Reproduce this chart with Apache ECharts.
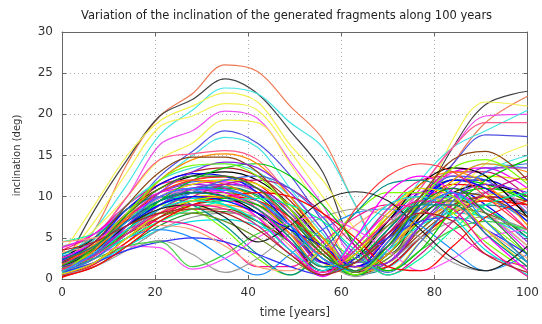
<!DOCTYPE html>
<html>
<head>
<meta charset="utf-8">
<script src="https://cdn.jsdelivr.net/npm/echarts@6/dist/echarts.min.js"></script>
<style>
  html, body { margin: 0; padding: 0; background: #ffffff; }
  #chart { width: 542px; height: 324px; }
</style>
</head>
<body>
<div id="chart"></div>
<script>
// Sample times (years) shared by every fragment track
const years = [0, 7, 14, 21, 28, 35, 42, 49, 56, 63, 70, 77, 84, 91, 100];

// Inclination (deg) of each generated fragment at the sample times
const inclinations = [
  [1.5, 6.0, 14.0, 19.8, 22.5, 26.0, 25.2, 21.0, 17.0, 9.0, 3.0, 7.5, 14.0, 19.0, 22.2],
  [1.0, 8.4, 14.5, 19.8, 21.8, 24.3, 22.5, 18.0, 13.0, 4.0, 3.0, 9.0, 16.0, 21.2, 22.8],
  [2.0, 6.0, 11.5, 17.5, 20.5, 23.2, 22.5, 19.0, 16.0, 9.0, 1.5, 5.0, 9.0, 13.0, 15.0],
  [3.0, 9.0, 15.0, 19.2, 21.0, 22.6, 21.5, 16.3, 12.0, 6.0, 2.0, 8.0, 17.0, 21.5, 21.0],
  [2.0, 7.0, 13.0, 18.5, 19.8, 21.3, 20.5, 15.5, 10.0, 5.0, 3.0, 6.0, 10.0, 14.0, 16.3],
  [1.5, 5.0, 10.0, 16.3, 18.0, 20.4, 19.5, 14.3, 9.0, 3.0, 5.0, 11.0, 16.0, 19.8, 20.0],
  [2.5, 6.0, 10.0, 14.5, 16.5, 19.3, 19.0, 14.0, 8.0, 2.0, 4.0, 8.0, 12.0, 12.0, 9.0],
  [1.0, 4.0, 8.0, 12.5, 15.5, 18.0, 16.5, 12.6, 7.0, 2.0, 3.0, 9.0, 14.0, 17.5, 17.3],
  [3.0, 5.0, 9.0, 12.0, 15.0, 17.2, 16.0, 11.0, 6.0, 1.0, 6.0, 12.0, 16.0, 18.0, 20.5],
  [2.0, 5.0, 10.0, 14.5, 15.2, 15.6, 14.5, 10.0, 5.0, 2.0, 6.0, 11.0, 16.0, 19.0, 19.0],
  [1.0, 3.5, 7.2, 10.5, 12.0, 12.4, 11.5, 8.0, 3.5, 1.0, 4.5, 9.0, 11.5, 11.0, 8.0],
  [0.5, 2.8, 6.0, 9.0, 10.8, 11.0, 10.0, 6.5, 2.0, 2.5, 6.0, 10.0, 12.0, 11.5, 9.5],
  [2.0, 4.0, 7.5, 10.0, 11.0, 10.5, 8.5, 5.0, 1.0, 3.0, 7.0, 10.5, 11.0, 9.0, 5.0],
  [3.0, 4.5, 7.0, 9.0, 9.8, 9.5, 8.0, 4.5, 0.5, 4.0, 8.5, 11.0, 10.5, 8.0, 4.0],
  [1.5, 3.0, 6.5, 10.0, 11.5, 11.8, 10.5, 7.0, 2.5, 1.5, 5.0, 9.5, 13.0, 13.5, 11.0],
  [0.8, 2.5, 5.5, 8.5, 10.0, 10.2, 9.0, 6.0, 2.0, 0.5, 3.5, 8.0, 11.5, 12.5, 12.0],
  [2.5, 5.0, 8.5, 11.0, 12.5, 13.0, 12.0, 9.0, 4.5, 0.8, 3.0, 7.5, 10.5, 11.5, 10.0],
  [4.0, 5.0, 7.0, 9.5, 11.0, 11.5, 10.5, 7.5, 3.0, 1.0, 2.5, 6.5, 9.5, 10.5, 9.0],
  [1.0, 2.0, 4.5, 7.0, 8.5, 9.0, 8.0, 5.5, 2.0, 1.5, 4.0, 7.0, 9.0, 9.5, 7.0],
  [0.3, 2.0, 5.0, 7.5, 9.0, 9.5, 9.0, 6.5, 3.0, 0.5, 2.0, 5.5, 8.5, 10.0, 9.5],
  [2.2, 4.5, 8.0, 10.5, 11.5, 11.0, 9.5, 6.0, 2.0, 2.0, 5.5, 9.0, 10.0, 8.5, 4.5],
  [1.8, 3.2, 6.0, 8.5, 9.5, 9.0, 7.0, 3.5, 0.5, 3.5, 7.5, 10.0, 9.5, 7.0, 3.0],
  [3.5, 5.5, 9.0, 11.5, 12.0, 11.0, 8.5, 4.5, 1.0, 4.0, 8.5, 12.0, 12.5, 10.5, 6.0],
  [0.6, 3.0, 6.5, 9.5, 11.0, 11.2, 10.2, 7.5, 3.5, 0.5, 1.5, 5.0, 8.0, 9.0, 8.0],
  [2.8, 4.0, 6.5, 9.0, 10.5, 10.8, 9.5, 6.5, 2.5, 1.0, 4.0, 8.0, 10.5, 10.0, 7.0],
  [1.2, 4.0, 8.0, 11.5, 13.0, 13.5, 12.5, 9.5, 5.0, 1.5, 2.0, 6.0, 9.0, 10.0, 9.0],
  [0.4, 1.5, 4.0, 6.5, 8.0, 8.2, 7.0, 4.5, 1.0, 2.0, 5.0, 8.0, 9.5, 8.5, 5.0],
  [2.0, 3.8, 7.0, 9.8, 10.8, 10.5, 9.0, 5.5, 1.5, 2.5, 6.5, 10.5, 12.5, 12.0, 8.5],
  [1.5, 4.8, 9.0, 12.0, 13.5, 14.0, 13.0, 10.0, 5.5, 1.0, 3.0, 8.0, 12.0, 14.0, 13.5],
  [3.2, 4.2, 6.0, 8.0, 9.0, 8.8, 7.5, 4.0, 0.5, 3.0, 6.5, 9.0, 9.5, 8.0, 4.0],
  [0.9, 2.5, 5.8, 9.0, 10.5, 10.5, 9.5, 7.0, 3.5, 0.8, 2.5, 6.0, 8.5, 8.0, 5.5],
  [2.5, 3.5, 6.0, 8.5, 10.0, 10.0, 8.5, 5.5, 2.0, 1.5, 5.5, 10.0, 13.0, 13.0, 10.0],
  [1.0, 3.5, 7.5, 10.5, 11.8, 12.0, 11.0, 8.0, 4.0, 0.5, 3.5, 9.0, 12.5, 12.0, 8.0],
  [4.5, 5.5, 7.5, 9.5, 10.0, 9.0, 6.5, 3.0, 0.5, 3.5, 7.0, 9.5, 10.0, 8.5, 5.5],
  [0.2, 1.8, 4.5, 7.5, 9.5, 10.0, 9.5, 7.5, 4.0, 1.0, 1.5, 5.0, 8.0, 9.5, 9.0],
  [1.6, 3.0, 5.5, 8.0, 9.5, 9.8, 9.0, 6.0, 2.5, 0.5, 3.0, 7.0, 10.0, 11.0, 10.0],
  [2.3, 4.5, 8.5, 11.5, 12.8, 12.5, 10.5, 6.5, 2.0, 1.5, 5.0, 9.5, 12.0, 12.0, 9.5],
  [0.7, 2.0, 4.0, 6.0, 7.0, 7.2, 6.5, 4.5, 1.5, 1.0, 3.5, 6.5, 8.0, 7.5, 5.0],
  [3.8, 5.5, 8.5, 10.5, 11.0, 10.0, 7.5, 3.5, 0.3, 4.0, 8.0, 10.5, 10.5, 8.0, 3.5],
  [1.3, 3.5, 7.0, 10.0, 11.5, 12.0, 11.5, 9.0, 5.0, 1.5, 1.0, 4.5, 8.0, 10.0, 11.0],
  [2.0, 4.0, 7.0, 9.5, 10.5, 10.0, 8.0, 4.5, 1.0, 2.5, 7.0, 11.5, 13.5, 12.5, 7.5],
  [0.5, 1.5, 3.5, 6.0, 7.5, 8.0, 7.5, 5.5, 2.5, 0.3, 2.0, 5.0, 7.0, 7.5, 6.0],
  [1.9, 4.2, 8.0, 11.0, 12.0, 11.5, 9.5, 5.5, 1.5, 3.0, 7.5, 11.5, 13.0, 11.5, 6.5],
  [2.6, 3.6, 5.5, 7.5, 8.5, 8.5, 7.0, 4.5, 1.0, 2.0, 5.0, 8.5, 10.5, 10.0, 7.5],
  [1.1, 3.0, 6.0, 9.0, 11.0, 11.5, 11.0, 8.5, 4.5, 1.0, 2.0, 6.5, 10.0, 11.5, 10.5],
  [1.5, 4.0, 7.5, 9.0, 8.5, 6.0, 2.5, 0.5, 4.0, 8.0, 10.5, 10.5, 8.0, 4.5, 1.0],
  [2.0, 3.5, 6.0, 7.0, 6.5, 4.5, 1.5, 1.5, 4.5, 7.5, 9.0, 8.5, 6.0, 3.0, 1.5],
  [3.0, 5.0, 8.5, 10.0, 9.0, 6.5, 3.0, 0.5, 3.5, 8.0, 11.5, 12.0, 10.0, 6.0, 2.0],
  [0.5, 2.5, 5.0, 6.0, 5.0, 2.5, 0.5, 3.0, 6.0, 8.0, 8.5, 6.5, 3.5, 1.0, 3.0],
  [1.0, 2.0, 3.5, 4.7, 3.0, 0.8, 2.5, 5.5, 7.5, 8.5, 7.5, 5.0, 2.0, 1.0, 4.0],
  [2.0, 3.0, 4.0, 3.8, 1.2, 2.5, 5.0, 7.0, 7.5, 6.0, 3.5, 1.0, 2.5, 5.0, 6.0],
  [0.8, 2.0, 3.5, 4.5, 5.0, 4.5, 3.0, 1.5, 0.5, 2.5, 5.0, 7.0, 7.5, 6.0, 3.0],
  [1.5, 2.5, 4.0, 4.5, 1.5, 3.0, 5.5, 6.5, 5.0, 2.5, 1.0, 3.5, 6.0, 7.0, 6.0],
  [4.5, 5.0, 6.0, 6.5, 6.0, 4.0, 1.5, 1.0, 3.5, 6.5, 9.0, 10.0, 9.0, 6.0, 2.5],
  [1.2, 3.5, 6.5, 8.0, 8.0, 7.0, 5.0, 2.5, 0.5, 3.0, 6.5, 9.0, 9.5, 7.0, 2.0],
  [0.5, 2.0, 5.0, 8.0, 10.0, 11.5, 12.0, 11.0, 8.0, 4.0, 0.5, 3.0, 7.0, 10.5, 12.5],
  [1.0, 2.5, 5.5, 8.5, 10.5, 12.0, 12.5, 11.0, 7.5, 3.0, 0.8, 4.5, 9.5, 13.0, 14.0],
  [2.0, 3.0, 5.0, 7.0, 8.5, 9.5, 9.8, 9.0, 7.0, 3.5, 0.5, 2.5, 6.0, 9.0, 10.5],
  [0.3, 1.5, 4.0, 7.0, 9.0, 10.0, 10.5, 10.0, 8.0, 5.0, 1.5, 1.0, 4.0, 7.5, 9.5],
  [1.4, 3.0, 6.0, 9.5, 12.0, 13.5, 14.0, 12.5, 9.0, 4.5, 1.0, 3.5, 8.5, 12.0, 14.5],
  [2.0, 3.5, 6.5, 9.0, 10.0, 9.5, 8.0, 6.0, 4.0, 1.5, 4.0, 9.0, 12.0, 11.0, 7.0],
  [1.0, 3.0, 6.0, 8.5, 9.5, 9.0, 7.0, 3.5, 1.0, 5.0, 9.0, 10.0, 7.5, 3.5, 0.5],
  [2.5, 4.5, 7.5, 10.0, 11.0, 10.5, 8.5, 4.5, 0.5, 5.0, 10.5, 12.5, 10.5, 5.5, 1.0],
  [0.6, 2.0, 5.0, 8.0, 9.5, 10.0, 8.5, 5.0, 1.5, 3.0, 8.0, 11.0, 10.0, 6.0, 1.5],
  [1.5, 3.5, 6.5, 8.5, 9.0, 7.5, 4.5, 6.5, 9.5, 10.6, 9.5, 6.0, 2.5, 1.0, 4.0],
  [1.8, 4.0, 7.5, 10.5, 12.0, 12.5, 11.0, 7.0, 3.0, 8.5, 12.5, 14.0, 13.0, 10.0, 6.0],
  [1.0, 3.5, 7.5, 12.0, 14.5, 15.2, 14.0, 10.0, 5.0, 1.0, 3.0, 8.0, 12.0, 14.0, 13.0],
  [2.0, 4.5, 9.0, 13.0, 14.8, 14.8, 13.0, 8.5, 3.5, 1.0, 4.5, 10.0, 14.5, 15.5, 12.0],
  [1.5, 3.0, 6.5, 10.5, 13.0, 14.2, 13.5, 10.5, 6.0, 1.5, 2.0, 6.5, 11.0, 13.5, 13.5],
  [0.8, 3.8, 8.0, 12.0, 13.8, 14.0, 12.5, 8.5, 4.0, 0.5, 4.0, 9.5, 13.5, 14.5, 11.5],
  [1.2, 2.8, 5.5, 8.0, 9.0, 8.5, 6.5, 3.0, 0.8, 3.5, 7.0, 9.5, 8.5, 4.0, 0.3],
  [2.4, 4.0, 7.0, 9.5, 10.5, 10.0, 8.5, 5.0, 1.5, 2.0, 6.0, 9.0, 9.0, 5.5, 1.5],
  [0.9, 3.2, 7.0, 10.0, 11.0, 10.8, 9.5, 6.5, 2.5, 1.0, 4.5, 8.5, 10.5, 7.0, 2.0],
  [3.5, 4.5, 6.5, 8.0, 8.5, 8.0, 6.0, 3.0, 0.5, 2.0, 5.5, 8.0, 7.0, 3.0, 0.8],
  [1.6, 3.8, 7.8, 11.0, 12.5, 12.5, 11.0, 7.5, 3.0, 1.0, 4.0, 9.0, 11.0, 8.0, 3.0]
];

// Line colours of the highlighted upper tracks, then a cycling palette for the rest
const leadColors = ['#ee7a55', '#444444', '#44e4e4', '#f4f050', '#f4f050', '#f050f0',
                    '#f4f050', '#5050e0', '#44e4e4', '#ff5a8a'];
const palette = ['#ff0000', '#00c800', '#0000ff', '#00e0e0', '#ff00ff', '#e0e000',
                 '#000000', '#999999', '#ff8c00', '#8b4513', '#8a2be2', '#7cfc00',
                 '#ff1493', '#008b8b', '#1e90ff', '#b22222', '#228b22', '#da70d6',
                 '#40e0d0', '#ffa07a', '#6b8e23', '#c71585', '#4169e1', '#00fa9a'];
// Fixed colours for a few individual low / late tracks (by row)
const trackColors = { 49: '#9a9a9a', 50: '#ff50ff', 51: '#3030ff', 52: '#40d040',
                      64: '#222222', 65: '#ff3a3a' };

const xTicks = [0, 20, 40, 60, 80, 100];
const yTicks = [0, 5, 10, 15, 20, 25, 30];

const chart = echarts.init(document.getElementById('chart'), null, { renderer: 'canvas' });

function trackColor(k) {
  if (trackColors[k]) return trackColors[k];
  if (k < leadColors.length) return leadColors[k];
  return palette[(k - leadColors.length) % palette.length];
}

const series = inclinations.map((row, k) => ({
  type: 'line',
  data: years.map((t, i) => [t, row[i]]),
  smooth: 0.35,
  symbol: 'none',
  silent: true,
  xAxisIndex: 0,
  yAxisIndex: 0,
  lineStyle: { width: 1.2, color: trackColor(k) },
  z: 2
}));

const labelFont = { fontFamily: 'DejaVu Sans', fontSize: 12, color: '#333333' };
const frameLine = { show: true, onZero: false, lineStyle: { color: '#666666', width: 1 } };
const innerTick = { show: true, inside: true, length: 4, lineStyle: { color: '#666666' } };
const gridDots = { show: true, lineStyle: { color: '#b0b0b0', type: [1, 3], width: 1 } };

chart.setOption({
  animation: false,
  backgroundColor: '#ffffff',
  title: {
    text: 'Variation of the inclination of the generated fragments along 100 years',
    left: 76,
    top: 5,
    textStyle: { fontFamily: 'DejaVu Sans', fontSize: 11.5, fontWeight: 'normal', color: '#222222' }
  },
  grid: { left: 62, right: 13, top: 32, bottom: 45, containLabel: false },
  xAxis: [
    {
      type: 'value', min: xTicks[0], max: xTicks[xTicks.length - 1], interval: 20,
      name: 'time [years]', nameLocation: 'middle', nameGap: 28,
      nameTextStyle: { fontFamily: 'DejaVu Sans', fontSize: 11.5, color: '#333333' },
      axisLine: frameLine,
      axisTick: innerTick,
      axisLabel: Object.assign({ margin: 8 }, labelFont),
      splitLine: gridDots
    },
    {
      type: 'value', position: 'top', min: xTicks[0], max: xTicks[xTicks.length - 1], interval: 20,
      axisLine: frameLine,
      axisTick: innerTick,
      axisLabel: { show: false },
      splitLine: { show: false }
    }
  ],
  yAxis: [
    {
      type: 'value', min: yTicks[0], max: yTicks[yTicks.length - 1], interval: 5,
      name: 'inclination (deg)', nameLocation: 'middle', nameGap: 40,
      nameTextStyle: { fontFamily: 'DejaVu Sans', fontSize: 10, color: '#333333' },
      axisLine: frameLine,
      axisTick: innerTick,
      axisLabel: Object.assign({ margin: 9 }, labelFont),
      splitLine: gridDots
    },
    {
      type: 'value', position: 'right', min: yTicks[0], max: yTicks[yTicks.length - 1], interval: 5,
      axisLine: frameLine,
      axisTick: innerTick,
      axisLabel: { show: false },
      splitLine: { show: false }
    }
  ],
  series: series
});
</script>
</body>
</html>
